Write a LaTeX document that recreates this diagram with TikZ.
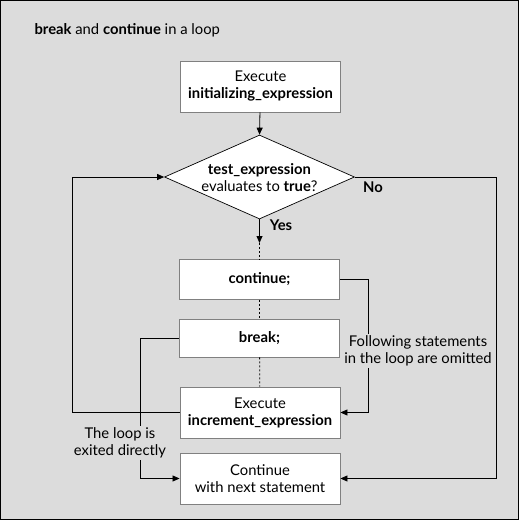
\documentclass[tikz,border=0pt]{standalone}
\usepackage{fontspec}
\setmainfont{Lato}
\usetikzlibrary{shapes.geometric,arrows.meta}
\definecolor{bg}{HTML}{DCDCDC}
\definecolor{edge}{HTML}{808080}
\begin{document}
\begin{tikzpicture}[x=1pt,y=-1pt,
  txt/.style={font=\fontsize{14.8}{17}\selectfont},
  box/.style={txt, draw=edge, line width=0.9pt, fill=white, minimum width=160pt, inner sep=0pt, align=center},
  ln/.style={line width=0.8pt},
  arr/.style={ln,-{Triangle[length=7pt,width=6pt]}},
  dots/.style={ln,dash pattern=on 2pt off 2pt},
  lbl/.style={txt, align=center, fill=bg, inner sep=1.5pt}]
\fill[bg,draw=black,line width=1pt] (0.5,0.5) rectangle (518.5,519.5);
\useasboundingbox (0,0) rectangle (519,520);
\node[txt, anchor=west] (title) at (31,30) {\textbf{break} and \textbf{continue} in a loop};
\node[box, minimum height=51pt] (init) at (260.5,86.5) {Execute\\\textbf{initializing\_expression}};
\node[diamond, draw, line width=0.7pt, fill=white, minimum width=190pt, minimum height=84pt, inner sep=0pt] (dec) at (259.5,177) {};
\node[txt, align=center] (dectext) at (259.5,178) {\textbf{test\_expression}\\evaluates to \textbf{true}?};
\node[box, minimum height=40pt] (cont) at (259.5,279.5) {\textbf{continue;}};
\node[box, minimum height=38pt] (brk) at (259.5,338) {\textbf{break;}};
\node[box, minimum height=51pt] (inc) at (260,412.5) {Execute\\\textbf{increment\_expression}};
\node[box, minimum height=51pt] (next) at (260,478.5) {Continue\\with next statement};
\coordinate (ya) at (259.5,243);
\coordinate (lx) at (72,0);
\coordinate (bx) at (140,0);
\coordinate (cx) at (368,0);
\coordinate (nx) at (496,0);
\draw[arr] (init) -- (dec.north);
\draw[arr] (dec.south) -- (ya);
\draw[dots] (ya) -- (cont.north);
\draw[dots] (cont) -- (brk);
\draw[dots] (brk) -- (inc);
\draw[arr] (inc.west) -- (inc.west -| lx) |- (dec.west);
\draw[arr] (brk.west) -- (brk.west -| bx) |- (next.west);
\draw[arr] (cont.east) -- (cont.east -| cx) |- (inc.east);
\draw[arr] (dec.east) -- (dec.east -| nx) |- (next.east);
\node[lbl] (exitlbl) at (120,443) {The loop is\\exited directly};
\node[lbl] (omitlbl) at (418,351) {Following statements\\in the loop are omitted};
\node[txt, font=\fontsize{14.8}{17}\selectfont\bfseries] (no) at (373,187) {No};
\node[txt, font=\fontsize{14.8}{17}\selectfont\bfseries] (yes) at (281,225) {Yes};
\end{tikzpicture}
\end{document}
